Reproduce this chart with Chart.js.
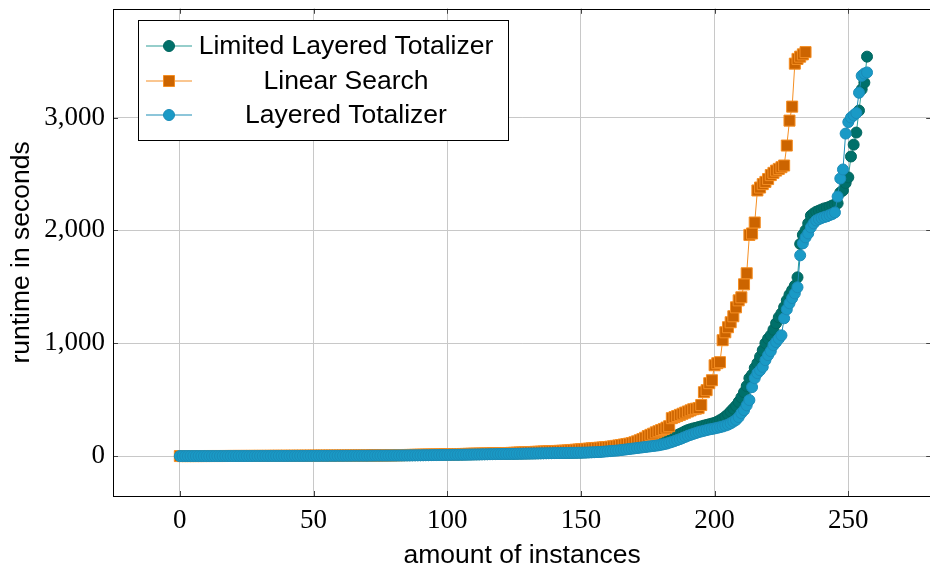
<!DOCTYPE html>
<html>
<head>
<meta charset="utf-8">
<script src="https://cdn.jsdelivr.net/npm/chart.js@4.4.1/dist/chart.umd.min.js"></script>
<style>
  html, body { margin: 0; padding: 0; background: #fff; overflow: hidden; }
</style>
</head>
<body>
<canvas id="chart" width="940" height="568"></canvas>
<script>
// runtimes (seconds) sorted ascending, one value per solved instance
const limitedLayered = [
  0.1,0.1,0.1,0.1,0.1,0.1,0.2,0.2,0.2,0.2,
  0.2,0.2,0.3,0.3,0.3,0.3,0.3,0.4,0.4,0.4,
  0.4,0.5,0.5,0.5,0.6,0.6,0.6,0.7,0.7,0.8,
  0.8,0.8,0.9,0.9,1,1,1.1,1.1,1.2,1.2,
  1.3,1.3,1.4,1.4,1.5,1.5,1.6,1.7,1.7,1.8,
  1.9,1.9,2,2.1,2.2,2.2,2.3,2.4,2.5,2.6,
  2.7,2.8,2.9,3,3.1,3.2,3.3,3.4,3.5,3.7,
  3.8,3.9,4.1,4.2,4.4,4.5,4.7,4.8,5,5.2,
  5.4,5.6,5.8,6,6.2,6.4,6.6,6.9,7.1,7.4,
  7.6,7.9,8.2,8.5,8.8,9.1,9.4,9.7,10,10.4,
  10.8,11.2,11.6,12,12.4,12.8,13.2,13.6,14,14.4,
  14.8,15.2,15.6,16,16.4,16.8,17.2,17.6,18,18.4,
  18.8,19.2,19.6,20,20.4,20.8,21.2,21.6,22,22.4,
  22.8,23.2,23.6,24,24.4,24.8,25.2,25.6,26,26.4,
  26.8,27.2,27.6,28,28.4,28.8,29.2,29.6,30,30.5,
  31,32,33,34,35,36,38,40,42,44,
  47,50,53,56,59,62,66,70,74,78,
  82,86,90,95,100,105,110,115,120,126,
  132,140,148,156,165,175,185,196,208,220,
  230,238,245,250,257,263,270,276,282,288,
  295,305,318,332,350,370,395,420,445,480,
  520,566,620,690,720,780,823,880,938,1000,
  1040,1070,1120,1177,1230,1265,1320,1380,1430,1470,
  1510,1584,1880,1960,2000,2062,2130,2150,2165,2175,
  2185,2195,2200,2210,2220,2230,2240,2336,2354,2420,
  2470,2655,2760,2867,3062,3250,3310,3540
];

const linearSearch = [
  0.1,0.1,0.1,0.2,0.2,0.2,0.2,0.3,0.3,0.3,
  0.3,0.4,0.4,0.4,0.5,0.5,0.5,0.6,0.6,0.7,
  0.7,0.7,0.8,0.8,0.9,0.9,1,1,1.1,1.1,
  1.2,1.2,1.3,1.3,1.4,1.5,1.5,1.6,1.7,1.7,
  1.8,1.9,2,2,2.1,2.2,2.3,2.4,2.5,2.6,
  2.7,2.8,2.9,3,3.1,3.2,3.3,3.5,3.6,3.7,
  3.9,4,4.2,4.3,4.5,4.6,4.8,5,5.2,5.4,
  5.6,5.8,6,6.2,6.4,6.7,6.9,7.2,7.4,7.7,
  8,8.3,8.6,8.9,9.2,9.5,9.8,10.2,10.6,11,
  11.4,11.8,12.2,12.6,13,13.4,13.8,14.2,14.6,15,
  15.5,16,16.5,17,17.5,18,18.5,19,19.5,20,
  20.5,21,21.5,22,22.5,23,23.5,24,24.5,25,
  25.5,26,26.5,27,28,29,30,31,32,33,
  34,35,36,37,38,39,40,41,42,43,
  44,45,46,47,48,50,52,54,56,58,
  60,62,64,66,68,70,72,74,76,78,
  80,83,86,90,94,98,102,106,110,115,
  122,130,140,150,162,177,188,198,210,220,
  230,240,252,265,336,345,355,365,375,385,
  395,405,415,420,425,452,566,584,646,672,
  805,823,832,1027,1097,1142,1186,1239,1318,1380,
  1407,1522,1620,1960,1973,2070,2354,2380,2410,2430,
  2455,2490,2510,2530,2545,2560,2575,2752,2973,3097,
  3478,3520,3540,3560,3580
];

const layeredTotalizer = [
  0.1,0.1,0.1,0.1,0.1,0.1,0.1,0.2,0.2,0.2,
  0.2,0.2,0.2,0.3,0.3,0.3,0.3,0.3,0.4,0.4,
  0.4,0.4,0.5,0.5,0.5,0.6,0.6,0.6,0.7,0.7,
  0.7,0.8,0.8,0.9,0.9,1,1,1.1,1.1,1.2,
  1.2,1.3,1.3,1.4,1.4,1.5,1.5,1.6,1.7,1.7,
  1.8,1.8,1.9,2,2,2.1,2.2,2.3,2.3,2.4,
  2.5,2.6,2.7,2.8,2.9,3,3.1,3.2,3.3,3.4,
  3.5,3.6,3.8,3.9,4,4.2,4.3,4.5,4.6,4.8,
  5,5.2,5.4,5.6,5.8,6,6.2,6.4,6.6,6.8,
  7,7.3,7.6,7.9,8.2,8.5,8.8,9.1,9.4,9.7,
  10,10.4,10.8,11.2,11.6,12,12.4,12.8,13.2,13.6,
  14,14.4,14.8,15.2,15.6,16,16.4,16.8,17.2,17.6,
  18,18.4,18.8,19.2,19.6,20,20.4,20.8,21.2,21.6,
  22,22.4,22.8,23.2,23.6,24,24.4,24.8,25.2,25.6,
  26,26.4,26.8,27.2,27.6,28,28.4,28.8,29.2,29.6,
  30,30.5,31,32,33,34,35,36,38,40,
  42,44,46,48,50,53,56,59,62,65,
  68,71,74,77,80,83,86,89,92,95,
  100,105,110,118,125,133,142,150,160,170,
  180,188,196,204,212,218,224,230,236,240,
  245,250,256,262,270,278,290,305,320,345,
  380,407,450,496,611,690,735,760,790,850,
  894,930,982,1010,1040,1070,1221,1300,1354,1400,
  1442,1496,1779,1885,1938,1973,2027,2062,2088,2100,
  2110,2118,2125,2135,2145,2159,2300,2460,2540,2858,
  2960,3000,3020,3040,3220,3370,3390,3400
];

const seriesNames = ['Limited Layered Totalizer', 'Linear Search', 'Layered Totalizer'];
const xTicks = [0, 50, 100, 150, 200, 250];
const yTicks = [0, 1000, 2000, 3000];

const toPoints = vals => vals.map((y, i) => ({ x: i, y }));

const sansFont = '"Liberation Sans", Arial, sans-serif';
const serifFont = '"Liberation Serif", "Times New Roman", serif';

// axis box, inward tick marks, pgfplots style legend
const frame = {
  id: 'frame',
  afterDraw(chart) {
    const { ctx, chartArea: a, scales } = chart;
    ctx.save();
    ctx.strokeStyle = '#444';
    ctx.lineWidth = 1;
    ctx.beginPath();
    xTicks.forEach(v => {
      const px = Math.round(scales.x.getPixelForValue(v)) + 0.5;
      ctx.moveTo(px, a.bottom); ctx.lineTo(px, a.bottom - 5);
      ctx.moveTo(px, a.top); ctx.lineTo(px, a.top + 5);
    });
    yTicks.forEach(v => {
      const py = Math.round(scales.y.getPixelForValue(v)) + 0.5;
      ctx.moveTo(a.left, py); ctx.lineTo(a.left + 5, py);
      ctx.moveTo(a.right, py); ctx.lineTo(a.right - 5, py);
    });
    ctx.stroke();

    ctx.strokeStyle = '#000';
    ctx.strokeRect(Math.round(a.left) + 0.5, Math.round(a.top) + 0.5,
      Math.round(a.right - a.left), Math.round(a.bottom - a.top));

    const box = { x: 138.5, y: 20.5, w: 370, h: 120 };
    ctx.fillStyle = '#fff';
    ctx.fillRect(box.x, box.y, box.w, box.h);
    ctx.strokeRect(box.x, box.y, box.w, box.h);

    const rows = [46, 81, 115];
    chart.data.datasets.forEach((ds, i) => {
      const y = rows[i];
      ctx.strokeStyle = ds.borderColor;
      ctx.lineWidth = 1.2;
      ctx.beginPath();
      ctx.moveTo(146, y);
      ctx.lineTo(192, y);
      ctx.stroke();
      ctx.fillStyle = ds.pointBackgroundColor;
      ctx.strokeStyle = ds.pointBorderColor;
      ctx.lineWidth = 1;
      ctx.beginPath();
      if (ds.pointStyle === 'rect') {
        ctx.rect(163.5, y - 5.5, 11, 11);
      } else {
        ctx.arc(169, y, 5.5, 0, Math.PI * 2);
      }
      ctx.fill();
      ctx.stroke();
      ctx.fillStyle = '#000';
      ctx.font = '26.5px ' + sansFont;
      ctx.textAlign = 'center';
      ctx.textBaseline = 'middle';
      ctx.fillText(ds.label, 346, y + 1);
    });
    ctx.restore();
  }
};

new Chart(document.getElementById('chart'), {
  type: 'line',
  data: {
    datasets: [
      {
        label: seriesNames[0],
        data: toPoints(limitedLayered),
        borderColor: '#2e9e97',
        borderWidth: 1,
        pointStyle: 'circle',
        pointRadius: 5.5,
        pointBackgroundColor: '#00706a',
        pointBorderColor: '#00665f',
        pointBorderWidth: 1,
        order: 3
      },
      {
        label: seriesNames[1],
        data: toPoints(linearSearch),
        borderColor: '#f58e22',
        borderWidth: 1,
        pointStyle: 'rect',
        pointRadius: 7.8,
        pointBackgroundColor: '#cc6400',
        pointBorderColor: '#f58e22',
        pointBorderWidth: 1,
        order: 2
      },
      {
        label: seriesNames[2],
        data: toPoints(layeredTotalizer),
        borderColor: '#1c8db5',
        borderWidth: 1,
        pointStyle: 'circle',
        pointRadius: 5.5,
        pointBackgroundColor: '#1a9ac6',
        pointBorderColor: '#1a8cb8',
        pointBorderWidth: 1,
        order: 1
      }
    ]
  },
  options: {
    responsive: false,
    animation: false,
    locale: 'en-US',
    layout: { padding: { top: 8, right: 3, left: 0, bottom: 0 } },
    plugins: { legend: { display: false }, tooltip: { enabled: false } },
    scales: {
      x: {
        type: 'linear',
        min: -25,
        max: 281,
        afterBuildTicks: s => { s.ticks = xTicks.map(v => ({ value: v })); },
        afterFit: s => { s.height = 72; s.paddingLeft = 0; s.paddingRight = 0; },
        grid: { color: '#c8c8c8', lineWidth: 1, drawTicks: false },
        border: { display: false },
        ticks: { padding: 9, color: '#000', font: { family: serifFont, size: 27 } },
        title: {
          display: true,
          text: 'amount of instances',
          color: '#000',
          padding: 0,
          font: { family: sansFont, size: 26.5, lineHeight: 0.9 }
        }
      },
      y: {
        type: 'linear',
        min: -354,
        max: 3964,
        afterBuildTicks: s => { s.ticks = yTicks.map(v => ({ value: v })); },
        afterFit: s => { s.width = 113; s.paddingTop = 0; s.paddingBottom = 0; },
        grid: { color: '#c8c8c8', lineWidth: 1, drawTicks: false },
        border: { display: false },
        ticks: { padding: 8, color: '#000', font: { family: serifFont, size: 27 } },
        title: {
          display: true,
          text: 'runtime in seconds',
          color: '#000',
          padding: { top: 8, bottom: 0 },
          font: { family: sansFont, size: 26.5, lineHeight: 1.05 }
        }
      }
    }
  },
  plugins: [frame]
});
</script>
</body>
</html>
